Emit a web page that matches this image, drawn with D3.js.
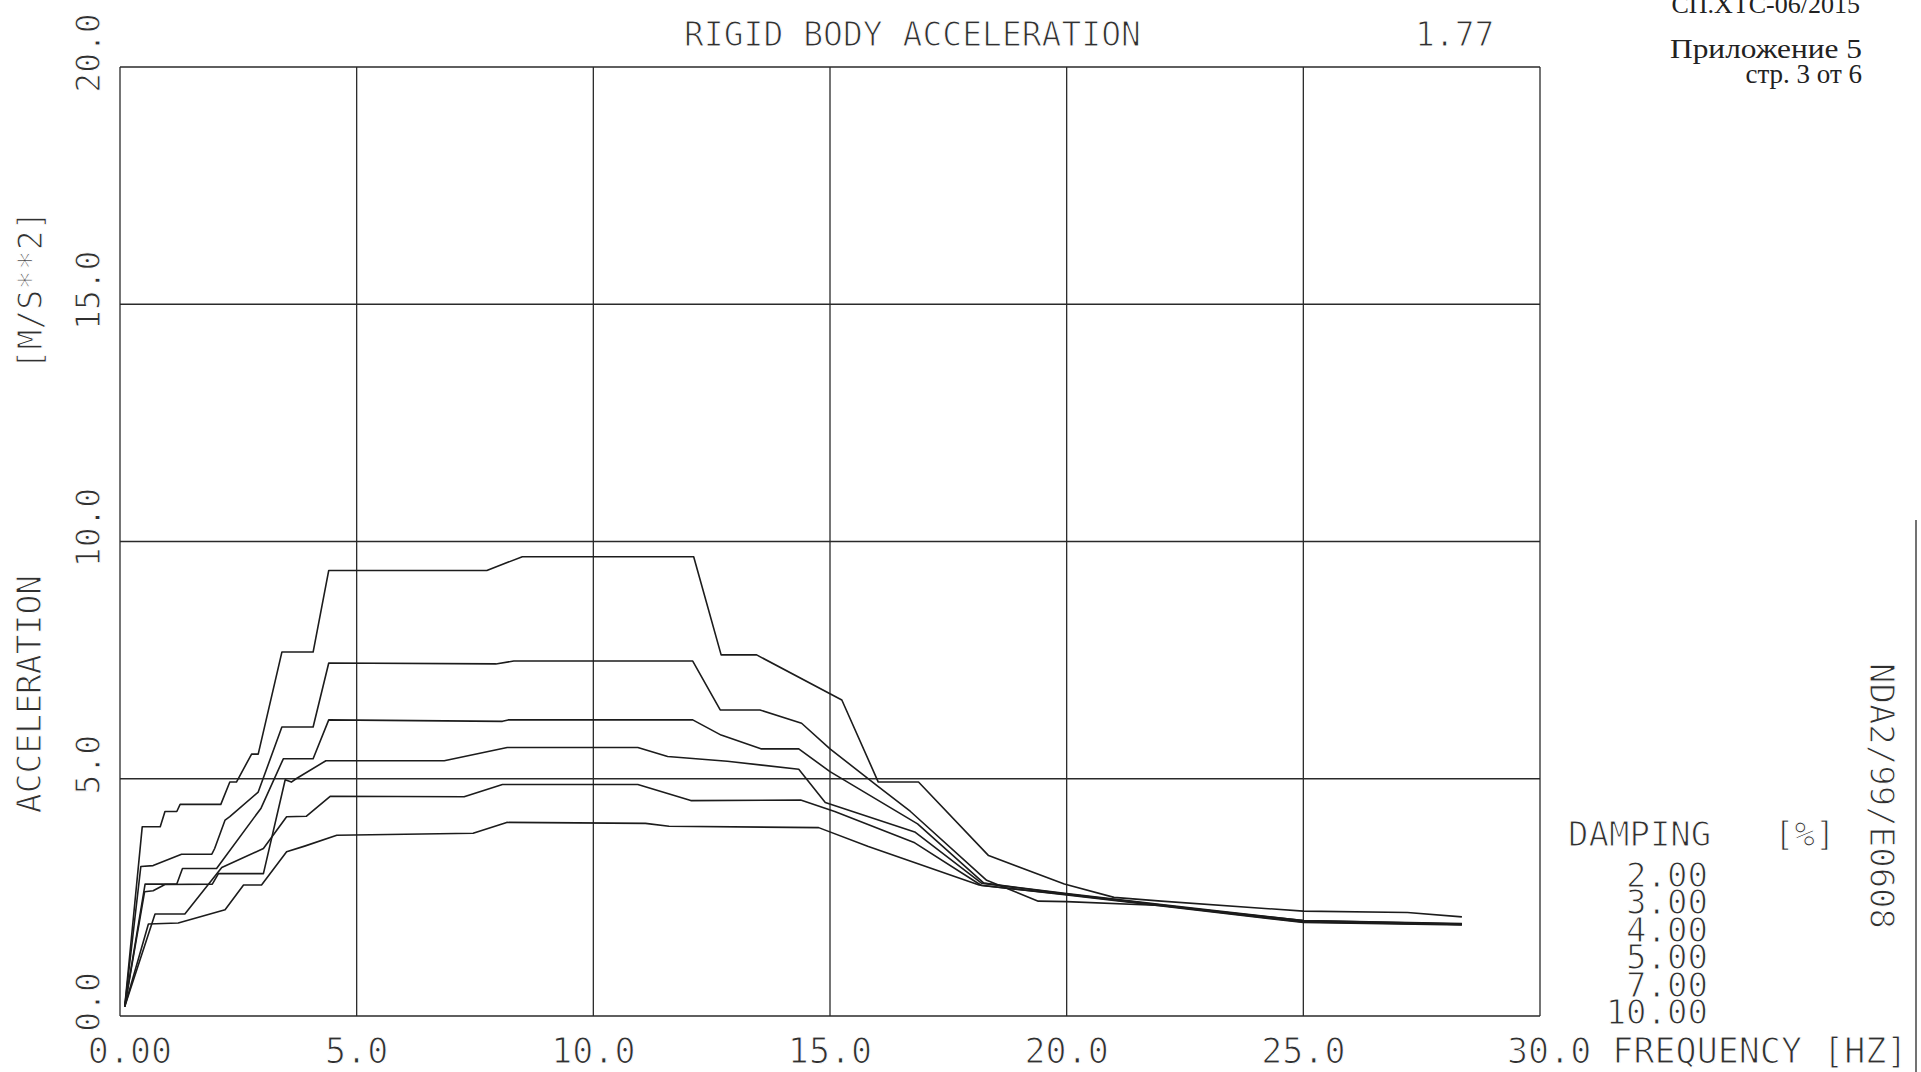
<!DOCTYPE html>
<html><head><meta charset="utf-8">
<script src="https://cdn.jsdelivr.net/npm/d3@7"></script>
<style>
html,body{margin:0;padding:0;background:#fff;}
svg{display:block;}
.mono{font-family:'DejaVu Sans Mono',monospace;fill:#303030;stroke:#fff;stroke-width:1.1px;}
.serif{font-family:'Liberation Serif','Times New Roman',serif;fill:#222;}
</style></head><body>
<svg id="chart" width="1921" height="1072"></svg>
<script>
// ---- data (frequency Hz, acceleration m/s^2) ----
const dampingLabels = ["2.00","3.00","4.00","5.00","7.00","10.00"];
const xTicks = [0,5,10,15,20,25,30];
const xTickLabels = ["0.00","5.0","10.0","15.0","20.0","25.0","30.0"];
const yTicks = [0,5,10,15,20];
const yTickLabels = ["0.0","5.0","10.0","15.0","20.0"];

const damp2 = [[0.10,0.20],[0.47,3.99],[0.85,3.99],[0.95,4.31],[1.20,4.31],[1.27,4.46],[2.13,4.46],[2.32,4.93],[2.46,4.93],[2.78,5.52],[2.92,5.52],[3.42,7.67],[4.08,7.67],[4.41,9.39],[7.75,9.39],[8.50,9.68],[12.12,9.68],[12.70,7.61],[13.45,7.61],[15.25,6.66],[16.02,4.93],[16.87,4.93],[18.35,3.38],[19.95,2.78],[21.0,2.50],[22.0,2.42],[25.0,2.21],[27.2,2.18],[28.35,2.09]];
const damp3 = [[0.10,0.20],[0.44,3.15],[0.70,3.17],[1.30,3.41],[1.94,3.41],[2.00,3.53],[2.22,4.13],[2.32,4.20],[2.92,4.72],[3.42,6.09],[4.08,6.09],[4.41,7.44],[7.94,7.42],[8.32,7.48],[12.10,7.48],[12.68,6.45],[13.52,6.45],[14.40,6.17],[15.0,5.63],[16.0,4.85],[16.7,4.31],[18.31,2.86],[19.40,2.42],[20.0,2.41],[22.0,2.33],[25.0,2.01],[28.35,1.95]];
const damp4 = [[0.10,0.20],[0.53,2.78],[1.20,2.78],[1.32,3.11],[2.04,3.11],[2.98,4.38],[3.45,5.42],[4.08,5.42],[4.41,6.24],[8.08,6.21],[8.20,6.24],[12.10,6.24],[12.70,5.92],[13.54,5.63],[14.34,5.63],[15.0,5.15],[16.85,4.05],[18.25,2.80],[20.0,2.58],[22.0,2.35],[25.0,2.01],[28.35,1.94]];
const damp5 = [[0.10,0.20],[0.52,2.62],[0.70,2.64],[0.95,2.77],[1.95,2.78],[2.08,3.00],[3.03,3.00],[3.49,4.98],[3.62,4.93],[3.72,5.00],[4.35,5.38],[6.85,5.38],[8.18,5.66],[10.94,5.66],[11.57,5.47],[12.83,5.37],[14.34,5.20],[14.90,4.50],[16.79,3.88],[18.2,2.80],[20.0,2.57],[22.0,2.34],[25.0,1.99],[28.35,1.93]];
const damp7 = [[0.10,0.20],[0.74,2.15],[1.37,2.15],[2.15,3.13],[3.03,3.53],[3.52,4.20],[3.94,4.21],[4.44,4.63],[7.27,4.62],[8.08,4.88],[10.94,4.88],[12.06,4.54],[14.38,4.55],[15.1,4.31],[16.79,3.65],[18.2,2.75],[20.0,2.56],[22.0,2.33],[25.0,1.98],[28.35,1.93]];
const damp10 = [[0.10,0.20],[0.60,1.94],[1.23,1.96],[2.22,2.24],[2.61,2.76],[2.99,2.76],[3.52,3.46],[3.90,3.58],[4.58,3.81],[7.46,3.85],[8.17,4.08],[11.10,4.06],[11.60,4.00],[14.76,3.97],[15.81,3.57],[18.15,2.76],[20.0,2.55],[22.0,2.32],[25.0,1.97],[28.35,1.92]];
const seriesList = [damp2, damp3, damp4, damp5, damp7, damp10];

// ---- drawing ----
const svg = d3.select("#chart");
const x = d3.scaleLinear().domain([0,30]).range([120,1540]);
const y = d3.scaleLinear().domain([0,20]).range([1016,67]);
const ink = "#2a2a2a";

// grid + frame
const g = svg.append("g");
g.selectAll("line.v").data(xTicks).join("line")
  .attr("class","v")
  .attr("x1", d=>x(d)).attr("x2", d=>x(d))
  .attr("y1", y(0)).attr("y2", y(20))
  .attr("stroke", ink).attr("stroke-width", 1.3);
g.selectAll("line.h").data(yTicks).join("line")
  .attr("class","h")
  .attr("x1", x(0)).attr("x2", x(30))
  .attr("y1", d=>y(d)).attr("y2", d=>y(d))
  .attr("stroke", ink).attr("stroke-width", 1.3);

// curves
const line = d3.line().x(d=>x(d[0])).y(d=>y(d[1]));
svg.append("g").selectAll("path").data(seriesList).join("path")
  .attr("d", line).attr("fill","none")
  .attr("stroke", "#1c1c1c").attr("stroke-width", 1.6)
  .attr("stroke-linejoin","round");

// x tick labels
const xl = svg.append("g").attr("class","mono").style("font-size","35px");
xTicks.forEach((t,i)=>{
  if (i === xTicks.length-1) {
    xl.append("text").attr("x", x(t)-33).attr("y", 1063)
      .attr("text-anchor","start").text(xTickLabels[i] + " FREQUENCY [HZ]");
  } else {
    xl.append("text").attr("x", x(t) + (i===0?10:0)).attr("y", 1063)
      .attr("text-anchor","middle").text(xTickLabels[i]);
  }
});

// y tick labels (rotated)
const yl = svg.append("g").attr("class","mono").style("font-size","33px");
yTicks.forEach((t,i)=>{
  yl.append("text").attr("transform", `translate(100,${y(t)-14}) rotate(-90)`)
    .attr("text-anchor","middle").text(yTickLabels[i]);
});

// axis titles
const tt = svg.append("g").attr("class","mono").style("font-size","33px");
tt.append("text").attr("transform","translate(41,694) rotate(-90)")
  .attr("text-anchor","middle").text("ACCELERATION");
tt.append("text").attr("transform","translate(42,290) rotate(-90)")
  .attr("text-anchor","middle").text("[M/S**2]");
tt.append("text").attr("x",684).attr("y",46).text("RIGID BODY ACCELERATION");
tt.append("text").attr("x",1415).attr("y",46).text("1.77");

// legend
const lg = svg.append("g").attr("class","mono").style("font-size","34px");
lg.append("text").attr("x",1568).attr("y",846).text("DAMPING");
lg.append("text").attr("x",1774).attr("y",846).text("[%]");
dampingLabels.forEach((s,i)=>{
  lg.append("text").attr("x",1708).attr("y",887 + i*27.4)
    .attr("text-anchor","end").text(s);
});
lg.append("text").attr("transform","translate(1870,796) rotate(90)")
  .attr("text-anchor","middle").text("NDA2/99/E0608");

// document header (Russian)
const hd = svg.append("g").attr("class","serif").attr("text-anchor","end");
hd.append("text").attr("x",1860).attr("y",13).style("font-size","26px").text("СП.ХТС-06/2015");
hd.append("text").attr("x",1862).attr("y",58).style("font-size","27px")
  .attr("textLength",192).attr("lengthAdjust","spacingAndGlyphs").text("Приложение 5");
hd.append("text").attr("x",1862).attr("y",83).style("font-size","27px").text("стр. 3 от 6");

// page edge line at right
svg.append("line").attr("x1",1916).attr("x2",1916).attr("y1",520).attr("y2",1072)
  .attr("stroke","#444").attr("stroke-width",1.5);
</script>
</body></html>
